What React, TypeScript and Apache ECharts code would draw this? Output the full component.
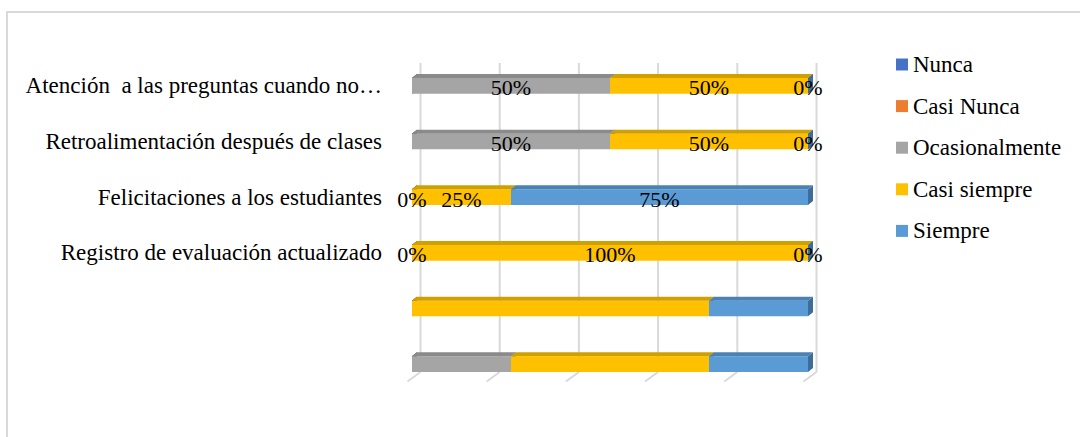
import React, { useEffect, useRef } from "react";
import * as echarts from "echarts";

// ---- data ----
const categories = [
  "Atención  a las preguntas cuando no…",
  "Retroalimentación después de clases",
  "Felicitaciones a los estudiantes",
  "Registro de evaluación actualizado",
  "",
  " ",
];
const seriesNames = ["Nunca", "Casi Nunca", "Ocasionalmente", "Casi siempre", "Siempre"];
const nunca = [0, 0, 0, 0, 0, 0];
const casiNunca = [0, 0, 0, 0, 0, 0];
const ocasionalmente = [50, 50, 0, 0, 0, 25];
const casiSiempre = [50, 50, 25, 100, 75, 50];
const siempre = [0, 0, 75, 0, 25, 25];
const gridTicks = [0, 20, 40, 60, 80, 100];

// ---- styles ----
const frontColors = ["#4472C4", "#ED7D31", "#A5A5A5", "#FFC000", "#5B9BD5"];
const topColors = ["#375f9f", "#c3672a", "#8a8a8a", "#d0a000", "#4a82b4"];
const sideColors = ["#2f528f", "#ae5a23", "#7c7c7c", "#bd8f00", "#3e6e98"];
const labelledSeries = [false, false, true, true, true];
const FONT = "Liberation Serif";

export default function App() {
  const ref = useRef<HTMLDivElement>(null);

  useEffect(() => {
    if (!ref.current) return;
    const chart = echarts.init(ref.current, undefined, { renderer: "svg" });

    const values = [nunca, casiNunca, ocasionalmente, casiSiempre, siempre];
    const DX = 5;
    const DY = 4;

    const barSeries = values.map((vals, s) => {
      const data = vals.map((v, i) => {
        let start = 0;
        for (let k = 0; k < s; k++) start += values[k][i];
        return [start, start + v, i, v];
      });
      return {
        type: "custom",
        name: seriesNames[s],
        itemStyle: { color: frontColors[s] },
        encode: { x: [0, 1], y: 2 },
        z: 3,
        data,
        renderItem: (params: any, api: any) => {
          const start = api.value(0);
          const end = api.value(1);
          const cat = api.value(2);
          const val = api.value(3);
          const p0 = api.coord([start, cat]);
          const p1 = api.coord([end, cat]);
          const band = api.size([0, 1])[1];
          const h = band * 0.28;
          const x0 = p0[0];
          const x1 = p1[0];
          const yT = p0[1] - h / 2;
          const yB = p0[1] + h / 2;
          const children: any[] = [
            {
              type: "polygon",
              shape: { points: [[x1, yT], [x1 + DX, yT - DY], [x1 + DX, yB - DY], [x1, yB]] },
              style: { fill: sideColors[s] },
            },
            {
              type: "rect",
              shape: { x: x0, y: yT, width: Math.max(0, x1 - x0), height: h },
              style: { fill: frontColors[s] },
            },
            {
              type: "polygon",
              shape: { points: [[x0, yT], [x1, yT], [x1 + DX, yT - DY], [x0 + DX, yT - DY]] },
              style: { fill: topColors[s] },
            },
          ];
          if (labelledSeries[s] && categories[cat].trim() !== "") {
            children.push({
              type: "text",
              z2: 50,
              x: (x0 + x1) / 2,
              y: p0[1] + 2,
              style: {
                text: val + "%",
                fill: "#000",
                fontSize: 22,
                fontFamily: FONT,
                align: "center",
                verticalAlign: "middle",
              },
            });
          }
          return { type: "group", children };
        },
      };
    });

    // back-wall gridlines and floor ticks of the 3D plot
    const gridSeries = {
      type: "custom",
      z: 1,
      silent: true,
      encode: { x: 0, y: 1 },
      data: gridTicks.map((t) => [t, 0]),
      renderItem: (params: any, api: any) => {
        const cs = params.coordSys;
        const x = api.coord([api.value(0), 0])[0] + 8.5;
        const yTop = cs.y + 5;
        const yBot = cs.y + cs.height - 20;
        const st = { stroke: "#d9d9d9", lineWidth: 2 };
        return {
          type: "group",
          children: [
            { type: "line", shape: { x1: x, y1: yTop, x2: x, y2: yBot }, style: st },
            { type: "line", shape: { x1: x, y1: yBot, x2: x - 13, y2: yBot + 9.5 }, style: st },
          ],
        };
      },
    };

    chart.setOption({
      animation: false,
      color: frontColors,
      grid: { left: 412, width: 396, top: 58, height: 334 },
      xAxis: {
        type: "value",
        min: 0,
        max: 100,
        interval: 20,
        axisLabel: { show: false },
        axisLine: { show: false },
        axisTick: { show: false },
        splitLine: { show: false },
      },
      yAxis: {
        type: "category",
        inverse: true,
        data: categories,
        axisLine: { show: false },
        axisTick: { show: false },
        axisLabel: {
          margin: 30,
          fontSize: 23,
          fontFamily: FONT,
          color: "#000",
          padding: [6, 0, 0, 0],
        },
      },
      legend: {
        orient: "vertical",
        left: 891,
        top: 48,
        icon: "rect",
        itemWidth: 12,
        itemHeight: 12,
        itemGap: 18.6,
        data: seriesNames,
        textStyle: { fontSize: 23, fontFamily: FONT, color: "#000", lineHeight: 22 },
      },
      graphic: [
        {
          type: "rect",
          shape: { x: 7, y: 12, width: 1200, height: 600 },
          style: { fill: "none", stroke: "#d9d9d9", lineWidth: 2 },
          silent: true,
        },
      ],
      series: [gridSeries, ...barSeries],
    });

    return () => chart.dispose();
  }, []);

  return (
    <div
      ref={ref}
      style={{ position: "absolute", left: 0, top: 0, width: 1080, height: 437 }}
    />
  );
}
